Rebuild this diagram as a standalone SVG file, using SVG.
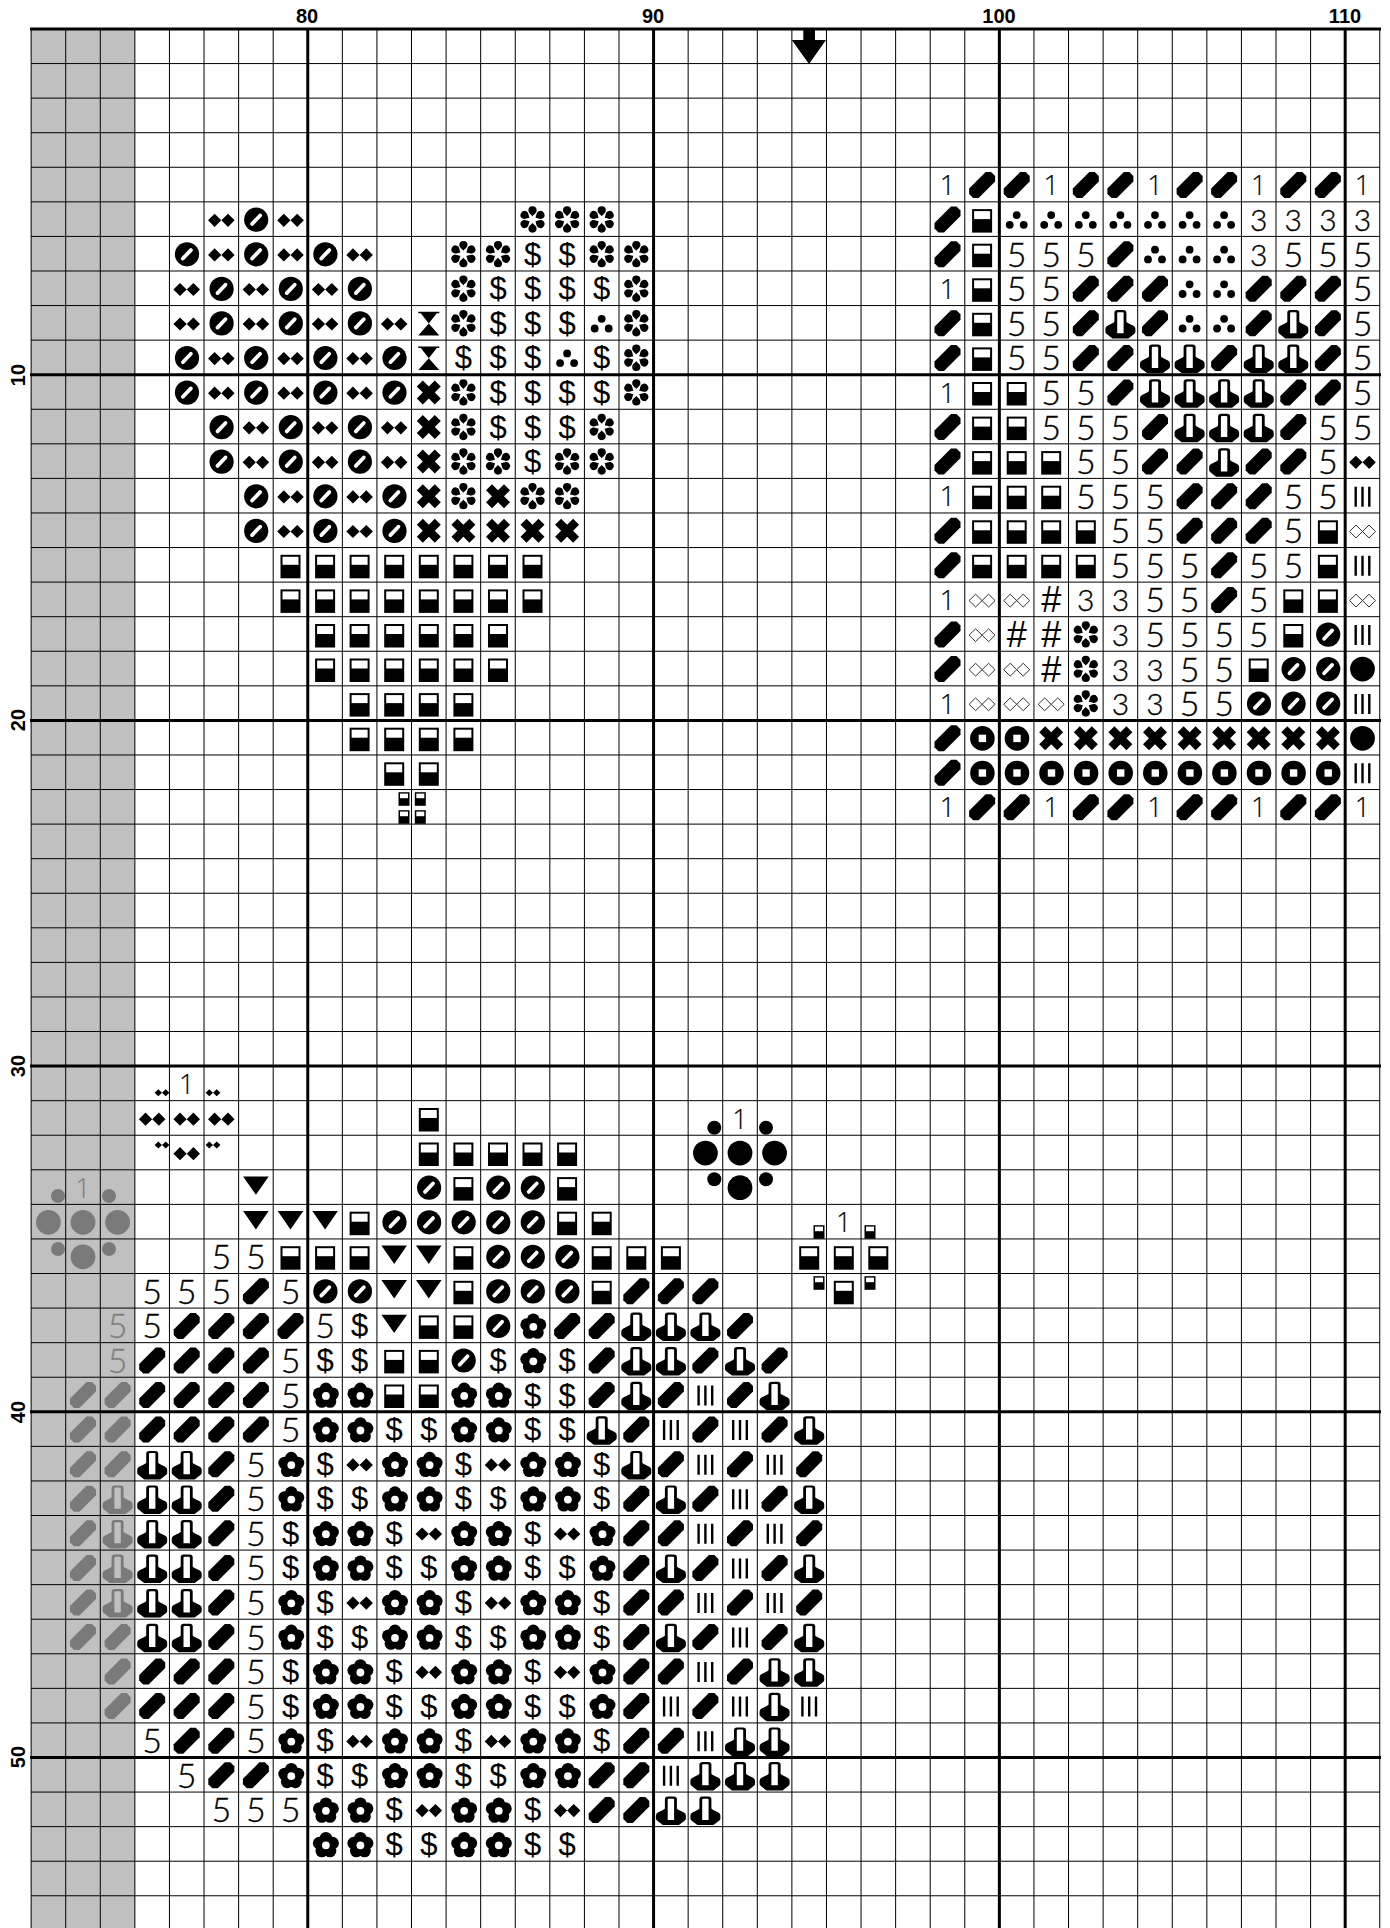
<svg xmlns="http://www.w3.org/2000/svg" width="1390" height="1928" viewBox="0 0 1390 1928">
<style>
.lbl{font:bold 20px "Liberation Sans",Arial,sans-serif;text-anchor:middle;fill:#000}
.f,.t,.o,.d,.h{text-anchor:middle;stroke:#000}
.f,.t{font-family:"Lato","Liberation Sans",sans-serif;font-weight:300;stroke-width:.35}
.f{font-size:34px}.t{font-size:30px}
.o{font-family:"Open Sans","Liberation Sans",sans-serif;font-weight:300;font-size:27px;stroke-width:.15}
.d{font-family:"Liberation Sans",sans-serif;font-size:31px;stroke-width:.05}
.h{font-family:"Liberation Sans",sans-serif;font-size:36px;stroke-width:.05}
.gt{fill:#808080;stroke:#808080}
.grid{fill:none;stroke:#000;stroke-width:1}
.thick{fill:none;stroke:#000;stroke-width:3}
.gr{fill:#7a7a7a}
</style>
<defs>
<path id="S" d="M3.5,-12.5 L9,-12.5 L13,-8.5 L13,-3 L-3.5,13.5 L-9,13.5 L-13,9.5 L-13,4 Z" stroke-linejoin="round"/>
<g id="B"><rect x="-10" y="-10" width="20" height="23.5"/><rect x="-8" y="-8" width="16" height="8" fill="#fff"/></g>
<g id="b"><rect x="-5.5" y="-6.8" width="11" height="13.6"/><rect x="-4" y="-5.4" width="8" height="4.6" fill="#fff"/></g>
<path id="D" d="M-13.3,1.2 L-6.7,-5.4 L0,1.2 L-6.7,7.8 Z M0,1.2 L6.7,-5.4 L13.3,1.2 L6.7,7.8 Z"/>
<path id="d2" d="M-7.4,0 L-3.7,-3.5 L0,0 L-3.7,3.5 Z M0,0 L3.7,-3.5 L7.4,0 L3.7,3.5 Z"/>
<g id="O"><circle cx=".3" cy=".6" r="12.1"/><path d="M-3.8,4.8 L4.2,-3.6" stroke="#fff" stroke-width="3.8" stroke-linecap="round"/></g>
<path id="pt" d="M0,-3.3 C-.9,-5 -4.1,-6.5 -4.1,-9.1 A4.1,4.1 0 0 1 4.1,-9.1 C4.1,-6.5 .9,-5 0,-3.3 Z"/>
<g id="F" transform="translate(0 .4)"><use href="#pt"/><use href="#pt" transform="rotate(60)"/><use href="#pt" transform="rotate(120)"/><use href="#pt" transform="rotate(180)"/><use href="#pt" transform="rotate(240)"/><use href="#pt" transform="rotate(300)"/></g>
<path id="H" d="M-10.5,-11 H10.5 V-9.5 H8 L0,.8 L10.5,12.7 H-10.5 L0,.8 L-8,-9.5 H-10.5 Z"/>
<path id="X" d="M-12,-5.5 L-6,-11.5 L0,-5.5 L6,-11.5 L12,-5.5 L6,.5 L12,6.5 L6,12.5 L0,6.5 L-6,12.5 L-12,6.5 L-6,.5 Z"/>
<g id="R"><circle cx=".3" cy=".7" r="12.3"/><rect x="-3.4" y="-3" width="7.4" height="7.4" fill="#fff"/></g>
<g id="T"><circle cx="0" cy="-4" r="3.9"/><circle cx="-7" cy="5.7" r="3.9"/><circle cx="7" cy="5.7" r="3.9"/></g>
<path id="Ah" d="M-6,-1 L-6,-10 Q-6,-12.8 -3,-12.8 L3,-12.8 Q6,-12.8 6,-10 L6,-1 L7,0 L13,3 Q15,4 15,6 L15,9 Q15,10 14,11 L8,15.7 L-8,15.7 L-14,11 Q-15,10 -15,9 L-15,6 Q-15,4 -13,3 L-7,0 Z"/>
<g id="A"><use href="#Ah"/><path d="M-3.2,10.5 V-9.5 Q-3.2,-10.6 -2,-10.6 L2,-10.6 Q3.2,-10.6 3.2,-9.5 V10.5 Z" fill="#fff"/></g>
<g id="A2"><use href="#Ah"/><path d="M-3.2,10.5 V-9.5 Q-3.2,-10.6 -2,-10.6 L2,-10.6 Q3.2,-10.6 3.2,-9.5 V10.5 Z" fill="#c0c0c0"/></g>
<g id="P" transform="translate(.8 1.4)"><path d="M0,-7 m-6.3,0 a6.3,6.3 0 1 0 12.6,0 a6.3,6.3 0 1 0 -12.6,0 Z"/><circle cx="6.66" cy="-2.16" r="6.3"/><circle cx="4.11" cy="5.66" r="6.3"/><circle cx="-4.11" cy="5.66" r="6.3"/><circle cx="-6.66" cy="-2.16" r="6.3"/><circle r="6"/><circle r="3.9" fill="#fff"/></g>
<path id="I" d="M-8,-9 h2.4 v20 h-2.4 Z M-1.2,-9 h2.4 v20 h-2.4 Z M5.6,-9 h2.4 v20 h-2.4 Z"/>
<path id="E" d="M-13,1.2 L-6.5,-5.2 L0,1.2 L-6.5,7.6 Z M0,1.2 L6.5,-5.2 L13,1.2 L6.5,7.6 Z" fill="#fff" stroke="#333" stroke-width="1"/>
<path id="V" d="M-12.8,-10.7 H12.8 L0,7.7 Z"/>
<circle id="L" r="12.4" cy=".6"/>
<circle id="c" r="7"/>
</defs>

<rect width="1390" height="1928" fill="#fff"/>
<rect x="31" y="29" width="103.9" height="1899" fill="#c0c0c0"/>

<g id="grid">
<path class="grid" d="M31.13 29V1928M65.71 29V1928M100.29 29V1928M134.87 29V1928M169.45 29V1928M204.03 29V1928M238.61 29V1928M273.19 29V1928M342.35 29V1928M376.93 29V1928M411.51 29V1928M446.09 29V1928M480.67 29V1928M515.25 29V1928M549.83 29V1928M584.41 29V1928M618.99 29V1928M688.15 29V1928M722.73 29V1928M757.31 29V1928M791.89 29V1928M826.47 29V1928M861.05 29V1928M895.63 29V1928M930.21 29V1928M964.79 29V1928M1033.95 29V1928M1068.53 29V1928M1103.11 29V1928M1137.69 29V1928M1172.27 29V1928M1206.85 29V1928M1241.43 29V1928M1276.01 29V1928M1310.59 29V1928M1379.75 29V1928"/>
<path class="grid" d="M31 63.57H1380M31 98.14H1380M31 132.71H1380M31 167.28H1380M31 201.85H1380M31 236.42H1380M31 270.99H1380M31 305.56H1380M31 340.13H1380M31 409.27H1380M31 443.84H1380M31 478.41H1380M31 512.98H1380M31 547.55H1380M31 582.12H1380M31 616.69H1380M31 651.26H1380M31 685.83H1380M31 754.97H1380M31 789.54H1380M31 824.11H1380M31 858.68H1380M31 893.25H1380M31 927.82H1380M31 962.39H1380M31 996.96H1380M31 1031.53H1380M31 1100.67H1380M31 1135.24H1380M31 1169.81H1380M31 1204.38H1380M31 1238.95H1380M31 1273.52H1380M31 1308.09H1380M31 1342.66H1380M31 1377.23H1380M31 1446.37H1380M31 1480.94H1380M31 1515.51H1380M31 1550.08H1380M31 1584.65H1380M31 1619.22H1380M31 1653.79H1380M31 1688.36H1380M31 1722.93H1380M31 1792.07H1380M31 1826.64H1380M31 1861.21H1380M31 1895.78H1380"/>
<path class="thick" d="M307.77 28V1928M653.57 28V1928M999.37 28V1928M1345.17 28V1928M30 29H1381M30 374.7H1381M30 720.4H1381M30 1066.1H1381M30 1411.8H1381M30 1757.5H1381"/>
</g>

<g id="labels">
<text class="lbl" x="307" y="23">80</text>
<text class="lbl" x="653" y="23">90</text>
<text class="lbl" x="999" y="23">100</text>
<text class="lbl" x="1345" y="23">110</text>
<text class="lbl" transform="translate(25 375) rotate(-90)">10</text>
<text class="lbl" transform="translate(25 720) rotate(-90)">20</text>
<text class="lbl" transform="translate(25 1066) rotate(-90)">30</text>
<text class="lbl" transform="translate(25 1412) rotate(-90)">40</text>
<text class="lbl" transform="translate(25 1757) rotate(-90)">50</text>
</g>

<path id="center-arrow" d="M803.3 29H815V40H826L809 64L791.8 40H803.3Z"/>

<g id="block-top-right">
<g transform="translate(0 184.6)"><text class="o" x="947.5" y="10.5">1</text><use href="#S" x="982.1"/><use href="#S" x="1016.7"/><text class="o" x="1051.2" y="10.5">1</text><use href="#S" x="1085.8"/><use href="#S" x="1120.4"/><text class="o" x="1155" y="10.5">1</text><use href="#S" x="1189.6"/><use href="#S" x="1224.1"/><text class="o" x="1258.7" y="10.5">1</text><use href="#S" x="1293.3"/><use href="#S" x="1327.9"/><text class="o" x="1362.5" y="10.5">1</text></g>
<g transform="translate(0 219.1)"><use href="#S" x="947.5"/><use href="#B" x="982.1"/><use href="#T" x="1016.7"/><use href="#T" x="1051.2"/><use href="#T" x="1085.8"/><use href="#T" x="1120.4"/><use href="#T" x="1155"/><use href="#T" x="1189.6"/><use href="#T" x="1224.1"/><text class="t" x="1258.7" y="12">3</text><text class="t" x="1293.3" y="12">3</text><text class="t" x="1327.9" y="12">3</text><text class="t" x="1362.5" y="12">3</text></g>
<g transform="translate(0 253.7)"><use href="#S" x="947.5"/><use href="#B" x="982.1"/><text class="f" x="1016.7" y="13">5</text><text class="f" x="1051.2" y="13">5</text><text class="f" x="1085.8" y="13">5</text><use href="#S" x="1120.4"/><use href="#T" x="1155"/><use href="#T" x="1189.6"/><use href="#T" x="1224.1"/><text class="t" x="1258.7" y="12">3</text><text class="f" x="1293.3" y="13">5</text><text class="f" x="1327.9" y="13">5</text><text class="f" x="1362.5" y="13">5</text></g>
<g transform="translate(0 288.3)"><text class="o" x="947.5" y="10.5">1</text><use href="#B" x="982.1"/><text class="f" x="1016.7" y="13">5</text><text class="f" x="1051.2" y="13">5</text><use href="#S" x="1085.8"/><use href="#S" x="1120.4"/><use href="#S" x="1155"/><use href="#T" x="1189.6"/><use href="#T" x="1224.1"/><use href="#S" x="1258.7"/><use href="#S" x="1293.3"/><use href="#S" x="1327.9"/><text class="f" x="1362.5" y="13">5</text></g>
<g transform="translate(0 322.8)"><use href="#S" x="947.5"/><use href="#B" x="982.1"/><text class="f" x="1016.7" y="13">5</text><text class="f" x="1051.2" y="13">5</text><use href="#S" x="1085.8"/><use href="#A" x="1120.4"/><use href="#S" x="1155"/><use href="#T" x="1189.6"/><use href="#T" x="1224.1"/><use href="#S" x="1258.7"/><use href="#A" x="1293.3"/><use href="#S" x="1327.9"/><text class="f" x="1362.5" y="13">5</text></g>
<g transform="translate(0 357.4)"><use href="#S" x="947.5"/><use href="#B" x="982.1"/><text class="f" x="1016.7" y="13">5</text><text class="f" x="1051.2" y="13">5</text><use href="#S" x="1085.8"/><use href="#S" x="1120.4"/><use href="#A" x="1155"/><use href="#A" x="1189.6"/><use href="#S" x="1224.1"/><use href="#A" x="1258.7"/><use href="#A" x="1293.3"/><use href="#S" x="1327.9"/><text class="f" x="1362.5" y="13">5</text></g>
<g transform="translate(0 392)"><text class="o" x="947.5" y="10.5">1</text><use href="#B" x="982.1"/><use href="#B" x="1016.7"/><text class="f" x="1051.2" y="13">5</text><text class="f" x="1085.8" y="13">5</text><use href="#S" x="1120.4"/><use href="#A" x="1155"/><use href="#A" x="1189.6"/><use href="#A" x="1224.1"/><use href="#A" x="1258.7"/><use href="#S" x="1293.3"/><use href="#S" x="1327.9"/><text class="f" x="1362.5" y="13">5</text></g>
<g transform="translate(0 426.6)"><use href="#S" x="947.5"/><use href="#B" x="982.1"/><use href="#B" x="1016.7"/><text class="f" x="1051.2" y="13">5</text><text class="f" x="1085.8" y="13">5</text><text class="f" x="1120.4" y="13">5</text><use href="#S" x="1155"/><use href="#A" x="1189.6"/><use href="#A" x="1224.1"/><use href="#A" x="1258.7"/><use href="#S" x="1293.3"/><text class="f" x="1327.9" y="13">5</text><text class="f" x="1362.5" y="13">5</text></g>
<g transform="translate(0 461.1)"><use href="#S" x="947.5"/><use href="#B" x="982.1"/><use href="#B" x="1016.7"/><use href="#B" x="1051.2"/><text class="f" x="1085.8" y="13">5</text><text class="f" x="1120.4" y="13">5</text><use href="#S" x="1155"/><use href="#S" x="1189.6"/><use href="#A" x="1224.1"/><use href="#S" x="1258.7"/><use href="#S" x="1293.3"/><text class="f" x="1327.9" y="13">5</text><use href="#D" x="1362.5"/></g>
<g transform="translate(0 495.7)"><text class="o" x="947.5" y="10.5">1</text><use href="#B" x="982.1"/><use href="#B" x="1016.7"/><use href="#B" x="1051.2"/><text class="f" x="1085.8" y="13">5</text><text class="f" x="1120.4" y="13">5</text><text class="f" x="1155" y="13">5</text><use href="#S" x="1189.6"/><use href="#S" x="1224.1"/><use href="#S" x="1258.7"/><text class="f" x="1293.3" y="13">5</text><text class="f" x="1327.9" y="13">5</text><use href="#I" x="1362.5"/></g>
<g transform="translate(0 530.3)"><use href="#S" x="947.5"/><use href="#B" x="982.1"/><use href="#B" x="1016.7"/><use href="#B" x="1051.2"/><use href="#B" x="1085.8"/><text class="f" x="1120.4" y="13">5</text><text class="f" x="1155" y="13">5</text><use href="#S" x="1189.6"/><use href="#S" x="1224.1"/><use href="#S" x="1258.7"/><text class="f" x="1293.3" y="13">5</text><use href="#B" x="1327.9"/><use href="#E" x="1362.5"/></g>
<g transform="translate(0 564.8)"><use href="#S" x="947.5"/><use href="#B" x="982.1"/><use href="#B" x="1016.7"/><use href="#B" x="1051.2"/><use href="#B" x="1085.8"/><text class="f" x="1120.4" y="13">5</text><text class="f" x="1155" y="13">5</text><text class="f" x="1189.6" y="13">5</text><use href="#S" x="1224.1"/><text class="f" x="1258.7" y="13">5</text><text class="f" x="1293.3" y="13">5</text><use href="#B" x="1327.9"/><use href="#I" x="1362.5"/></g>
<g transform="translate(0 599.4)"><text class="o" x="947.5" y="10.5">1</text><use href="#E" x="982.1"/><use href="#E" x="1016.7"/><text class="h" x="1051.2" y="13">#</text><text class="t" x="1085.8" y="12">3</text><text class="t" x="1120.4" y="12">3</text><text class="f" x="1155" y="13">5</text><text class="f" x="1189.6" y="13">5</text><use href="#S" x="1224.1"/><text class="f" x="1258.7" y="13">5</text><use href="#B" x="1293.3"/><use href="#B" x="1327.9"/><use href="#E" x="1362.5"/></g>
<g transform="translate(0 634)"><use href="#S" x="947.5"/><use href="#E" x="982.1"/><text class="h" x="1016.7" y="13">#</text><text class="h" x="1051.2" y="13">#</text><use href="#F" x="1085.8"/><text class="t" x="1120.4" y="12">3</text><text class="f" x="1155" y="13">5</text><text class="f" x="1189.6" y="13">5</text><text class="f" x="1224.1" y="13">5</text><text class="f" x="1258.7" y="13">5</text><use href="#B" x="1293.3"/><use href="#O" x="1327.9"/><use href="#I" x="1362.5"/></g>
<g transform="translate(0 668.5)"><use href="#S" x="947.5"/><use href="#E" x="982.1"/><use href="#E" x="1016.7"/><text class="h" x="1051.2" y="13">#</text><use href="#F" x="1085.8"/><text class="t" x="1120.4" y="12">3</text><text class="t" x="1155" y="12">3</text><text class="f" x="1189.6" y="13">5</text><text class="f" x="1224.1" y="13">5</text><use href="#B" x="1258.7"/><use href="#O" x="1293.3"/><use href="#O" x="1327.9"/><use href="#L" x="1362.5"/></g>
<g transform="translate(0 703.1)"><text class="o" x="947.5" y="10.5">1</text><use href="#E" x="982.1"/><use href="#E" x="1016.7"/><use href="#E" x="1051.2"/><use href="#F" x="1085.8"/><text class="t" x="1120.4" y="12">3</text><text class="t" x="1155" y="12">3</text><text class="f" x="1189.6" y="13">5</text><text class="f" x="1224.1" y="13">5</text><use href="#O" x="1258.7"/><use href="#O" x="1293.3"/><use href="#O" x="1327.9"/><use href="#I" x="1362.5"/></g>
<g transform="translate(0 737.7)"><use href="#S" x="947.5"/><use href="#R" x="982.1"/><use href="#R" x="1016.7"/><use href="#X" x="1051.2"/><use href="#X" x="1085.8"/><use href="#X" x="1120.4"/><use href="#X" x="1155"/><use href="#X" x="1189.6"/><use href="#X" x="1224.1"/><use href="#X" x="1258.7"/><use href="#X" x="1293.3"/><use href="#X" x="1327.9"/><use href="#L" x="1362.5"/></g>
<g transform="translate(0 772.3)"><use href="#S" x="947.5"/><use href="#R" x="982.1"/><use href="#R" x="1016.7"/><use href="#R" x="1051.2"/><use href="#R" x="1085.8"/><use href="#R" x="1120.4"/><use href="#R" x="1155"/><use href="#R" x="1189.6"/><use href="#R" x="1224.1"/><use href="#R" x="1258.7"/><use href="#R" x="1293.3"/><use href="#R" x="1327.9"/><use href="#I" x="1362.5"/></g>
<g transform="translate(0 806.8)"><text class="o" x="947.5" y="10.5">1</text><use href="#S" x="982.1"/><use href="#S" x="1016.7"/><text class="o" x="1051.2" y="10.5">1</text><use href="#S" x="1085.8"/><use href="#S" x="1120.4"/><text class="o" x="1155" y="10.5">1</text><use href="#S" x="1189.6"/><use href="#S" x="1224.1"/><text class="o" x="1258.7" y="10.5">1</text><use href="#S" x="1293.3"/><use href="#S" x="1327.9"/><text class="o" x="1362.5" y="10.5">1</text></g>
</g>

<g id="block-heart">
<g transform="translate(0 219.1)"><use href="#D" x="221.3"/><use href="#O" x="255.9"/><use href="#D" x="290.5"/><use href="#F" x="532.5"/><use href="#F" x="567.1"/><use href="#F" x="601.7"/></g>
<g transform="translate(0 253.7)"><use href="#O" x="186.7"/><use href="#D" x="221.3"/><use href="#O" x="255.9"/><use href="#D" x="290.5"/><use href="#O" x="325.1"/><use href="#D" x="359.6"/><use href="#F" x="463.4"/><use href="#F" x="498"/><text class="d" x="532.5" y="11">$</text><text class="d" x="567.1" y="11">$</text><use href="#F" x="601.7"/><use href="#F" x="636.3"/></g>
<g transform="translate(0 288.3)"><use href="#D" x="186.7"/><use href="#O" x="221.3"/><use href="#D" x="255.9"/><use href="#O" x="290.5"/><use href="#D" x="325.1"/><use href="#O" x="359.6"/><use href="#F" x="463.4"/><text class="d" x="498" y="11">$</text><text class="d" x="532.5" y="11">$</text><text class="d" x="567.1" y="11">$</text><text class="d" x="601.7" y="11">$</text><use href="#F" x="636.3"/></g>
<g transform="translate(0 322.8)"><use href="#D" x="186.7"/><use href="#O" x="221.3"/><use href="#D" x="255.9"/><use href="#O" x="290.5"/><use href="#D" x="325.1"/><use href="#O" x="359.6"/><use href="#D" x="394.2"/><use href="#H" x="428.8"/><use href="#F" x="463.4"/><text class="d" x="498" y="11">$</text><text class="d" x="532.5" y="11">$</text><text class="d" x="567.1" y="11">$</text><use href="#T" x="601.7"/><use href="#F" x="636.3"/></g>
<g transform="translate(0 357.4)"><use href="#O" x="186.7"/><use href="#D" x="221.3"/><use href="#O" x="255.9"/><use href="#D" x="290.5"/><use href="#O" x="325.1"/><use href="#D" x="359.6"/><use href="#O" x="394.2"/><use href="#H" x="428.8"/><text class="d" x="463.4" y="11">$</text><text class="d" x="498" y="11">$</text><text class="d" x="532.5" y="11">$</text><use href="#T" x="567.1"/><text class="d" x="601.7" y="11">$</text><use href="#F" x="636.3"/></g>
<g transform="translate(0 392)"><use href="#O" x="186.7"/><use href="#D" x="221.3"/><use href="#O" x="255.9"/><use href="#D" x="290.5"/><use href="#O" x="325.1"/><use href="#D" x="359.6"/><use href="#O" x="394.2"/><use href="#X" x="428.8"/><use href="#F" x="463.4"/><text class="d" x="498" y="11">$</text><text class="d" x="532.5" y="11">$</text><text class="d" x="567.1" y="11">$</text><text class="d" x="601.7" y="11">$</text><use href="#F" x="636.3"/></g>
<g transform="translate(0 426.6)"><use href="#O" x="221.3"/><use href="#D" x="255.9"/><use href="#O" x="290.5"/><use href="#D" x="325.1"/><use href="#O" x="359.6"/><use href="#D" x="394.2"/><use href="#X" x="428.8"/><use href="#F" x="463.4"/><text class="d" x="498" y="11">$</text><text class="d" x="532.5" y="11">$</text><text class="d" x="567.1" y="11">$</text><use href="#F" x="601.7"/></g>
<g transform="translate(0 461.1)"><use href="#O" x="221.3"/><use href="#D" x="255.9"/><use href="#O" x="290.5"/><use href="#D" x="325.1"/><use href="#O" x="359.6"/><use href="#D" x="394.2"/><use href="#X" x="428.8"/><use href="#F" x="463.4"/><use href="#F" x="498"/><text class="d" x="532.5" y="11">$</text><use href="#F" x="567.1"/><use href="#F" x="601.7"/></g>
<g transform="translate(0 495.7)"><use href="#O" x="255.9"/><use href="#D" x="290.5"/><use href="#O" x="325.1"/><use href="#D" x="359.6"/><use href="#O" x="394.2"/><use href="#X" x="428.8"/><use href="#F" x="463.4"/><use href="#X" x="498"/><use href="#F" x="532.5"/><use href="#F" x="567.1"/></g>
<g transform="translate(0 530.3)"><use href="#O" x="255.9"/><use href="#D" x="290.5"/><use href="#O" x="325.1"/><use href="#D" x="359.6"/><use href="#O" x="394.2"/><use href="#X" x="428.8"/><use href="#X" x="463.4"/><use href="#X" x="498"/><use href="#X" x="532.5"/><use href="#X" x="567.1"/></g>
<g transform="translate(0 564.8)"><use href="#B" x="290.5"/><use href="#B" x="325.1"/><use href="#B" x="359.6"/><use href="#B" x="394.2"/><use href="#B" x="428.8"/><use href="#B" x="463.4"/><use href="#B" x="498"/><use href="#B" x="532.5"/></g>
<g transform="translate(0 599.4)"><use href="#B" x="290.5"/><use href="#B" x="325.1"/><use href="#B" x="359.6"/><use href="#B" x="394.2"/><use href="#B" x="428.8"/><use href="#B" x="463.4"/><use href="#B" x="498"/><use href="#B" x="532.5"/></g>
<g transform="translate(0 634)"><use href="#B" x="325.1"/><use href="#B" x="359.6"/><use href="#B" x="394.2"/><use href="#B" x="428.8"/><use href="#B" x="463.4"/><use href="#B" x="498"/></g>
<g transform="translate(0 668.5)"><use href="#B" x="325.1"/><use href="#B" x="359.6"/><use href="#B" x="394.2"/><use href="#B" x="428.8"/><use href="#B" x="463.4"/><use href="#B" x="498"/></g>
<g transform="translate(0 703.1)"><use href="#B" x="359.6"/><use href="#B" x="394.2"/><use href="#B" x="428.8"/><use href="#B" x="463.4"/></g>
<g transform="translate(0 737.7)"><use href="#B" x="359.6"/><use href="#B" x="394.2"/><use href="#B" x="428.8"/><use href="#B" x="463.4"/></g>
<g transform="translate(0 772.3)"><use href="#B" x="394.2"/><use href="#B" x="428.8"/></g>
<use href="#b" x="404" y="799"/><use href="#b" x="420.3" y="799"/><use href="#b" x="404" y="817"/><use href="#b" x="420.3" y="817"/>
</g>

<g id="cluster-diamonds">
<text class="o" x="186.7" y="1093.9">1</text>
<use href="#d2" x="162" y="1092.7"/><use href="#d2" x="213" y="1092.7"/>
<use href="#D" x="152.2" y="1118"/><use href="#D" x="186.7" y="1118"/><use href="#D" x="221.3" y="1118"/>
<use href="#d2" x="162" y="1145"/><use href="#D" x="186.7" y="1152.5"/><use href="#d2" x="213" y="1145"/>
</g>
<g id="cluster-gray" class="gr">
<text class="o gt" x="83" y="1197.6">1</text>
<use href="#c" x="58" y="1196"/><use href="#c" x="109" y="1196"/>
<use href="#L" x="48.4" y="1221.7"/><use href="#L" x="83" y="1221.7"/><use href="#L" x="117.6" y="1221.7"/>
<use href="#c" x="58" y="1249"/><use href="#L" x="83" y="1256.2"/><use href="#c" x="109" y="1249"/>
</g>
<g id="cluster-discs">
<text class="o" x="740" y="1128.5">1</text>
<use href="#c" x="714.3" y="1127.7"/><use href="#c" x="766" y="1127.7"/>
<use href="#L" x="705.4" y="1152.5"/><use href="#L" x="740" y="1152.5"/><use href="#L" x="774.6" y="1152.5"/>
<use href="#c" x="714.3" y="1179.3"/><use href="#L" x="740" y="1187.1"/><use href="#c" x="766" y="1179.3"/>
</g>
<g id="cluster-boxes">
<text class="o" x="843.8" y="1232.2">1</text>
<use href="#b" x="819" y="1232"/><use href="#b" x="870" y="1232"/>
<use href="#B" x="809.2" y="1256.2"/><use href="#B" x="843.8" y="1256.2"/><use href="#B" x="878.3" y="1256.2"/>
<use href="#b" x="819" y="1283"/><use href="#B" x="843.8" y="1290.8"/><use href="#b" x="870" y="1283"/>
</g>

<g id="block-lower">
<use href="#B" x="428.8" y="1118"/>
<g transform="translate(0 1152.5)"><use href="#B" x="428.8"/><use href="#B" x="463.4"/><use href="#B" x="498"/><use href="#B" x="532.5"/><use href="#B" x="567.1"/></g>
<g transform="translate(0 1187.1)"><use href="#V" x="255.9"/><use href="#O" x="428.8"/><use href="#B" x="463.4"/><use href="#O" x="498"/><use href="#O" x="532.5"/><use href="#B" x="567.1"/></g>
<g transform="translate(0 1221.7)"><use href="#V" x="255.9"/><use href="#V" x="290.5"/><use href="#V" x="325.1"/><use href="#B" x="359.6"/><use href="#O" x="394.2"/><use href="#O" x="428.8"/><use href="#O" x="463.4"/><use href="#O" x="498"/><use href="#O" x="532.5"/><use href="#B" x="567.1"/><use href="#B" x="601.7"/></g>
<g transform="translate(0 1256.2)"><text class="f" x="221.3" y="13">5</text><text class="f" x="255.9" y="13">5</text><use href="#B" x="290.5"/><use href="#B" x="325.1"/><use href="#B" x="359.6"/><use href="#V" x="394.2"/><use href="#V" x="428.8"/><use href="#B" x="463.4"/><use href="#O" x="498"/><use href="#O" x="532.5"/><use href="#O" x="567.1"/><use href="#B" x="601.7"/><use href="#B" x="636.3"/><use href="#B" x="670.9"/></g>
<g transform="translate(0 1290.8)"><text class="f" x="152.2" y="13">5</text><text class="f" x="186.7" y="13">5</text><text class="f" x="221.3" y="13">5</text><use href="#S" x="255.9"/><text class="f" x="290.5" y="13">5</text><use href="#O" x="325.1"/><use href="#O" x="359.6"/><use href="#V" x="394.2"/><use href="#V" x="428.8"/><use href="#B" x="463.4"/><use href="#O" x="498"/><use href="#O" x="532.5"/><use href="#O" x="567.1"/><use href="#B" x="601.7"/><use href="#S" x="636.3"/><use href="#S" x="670.9"/><use href="#S" x="705.4"/></g>
<g transform="translate(0 1325.4)"><text class="f gt" x="117.6" y="13">5</text><text class="f" x="152.2" y="13">5</text><use href="#S" x="186.7"/><use href="#S" x="221.3"/><use href="#S" x="255.9"/><use href="#S" x="290.5"/><text class="f" x="325.1" y="13">5</text><text class="d" x="359.6" y="11">$</text><use href="#V" x="394.2"/><use href="#B" x="428.8"/><use href="#B" x="463.4"/><use href="#O" x="498"/><use href="#P" x="532.5"/><use href="#S" x="567.1"/><use href="#S" x="601.7"/><use href="#A" x="636.3"/><use href="#A" x="670.9"/><use href="#A" x="705.4"/><use href="#S" x="740"/></g>
<g transform="translate(0 1359.9)"><text class="f gt" x="117.6" y="13">5</text><use href="#S" x="152.2"/><use href="#S" x="186.7"/><use href="#S" x="221.3"/><use href="#S" x="255.9"/><text class="f" x="290.5" y="13">5</text><text class="d" x="325.1" y="11">$</text><text class="d" x="359.6" y="11">$</text><use href="#B" x="394.2"/><use href="#B" x="428.8"/><use href="#O" x="463.4"/><text class="d" x="498" y="11">$</text><use href="#P" x="532.5"/><text class="d" x="567.1" y="11">$</text><use href="#S" x="601.7"/><use href="#A" x="636.3"/><use href="#A" x="670.9"/><use href="#S" x="705.4"/><use href="#A" x="740"/><use href="#S" x="774.6"/></g>
<g transform="translate(0 1394.5)"><use class="gr" href="#S" x="83"/><use class="gr" href="#S" x="117.6"/><use href="#S" x="152.2"/><use href="#S" x="186.7"/><use href="#S" x="221.3"/><use href="#S" x="255.9"/><text class="f" x="290.5" y="13">5</text><use href="#P" x="325.1"/><use href="#P" x="359.6"/><use href="#B" x="394.2"/><use href="#B" x="428.8"/><use href="#P" x="463.4"/><use href="#P" x="498"/><text class="d" x="532.5" y="11">$</text><text class="d" x="567.1" y="11">$</text><use href="#S" x="601.7"/><use href="#A" x="636.3"/><use href="#S" x="670.9"/><use href="#I" x="705.4"/><use href="#S" x="740"/><use href="#A" x="774.6"/></g>
<g transform="translate(0 1429.1)"><use class="gr" href="#S" x="83"/><use class="gr" href="#S" x="117.6"/><use href="#S" x="152.2"/><use href="#S" x="186.7"/><use href="#S" x="221.3"/><use href="#S" x="255.9"/><text class="f" x="290.5" y="13">5</text><use href="#P" x="325.1"/><use href="#P" x="359.6"/><text class="d" x="394.2" y="11">$</text><text class="d" x="428.8" y="11">$</text><use href="#P" x="463.4"/><use href="#P" x="498"/><text class="d" x="532.5" y="11">$</text><text class="d" x="567.1" y="11">$</text><use href="#A" x="601.7"/><use href="#S" x="636.3"/><use href="#I" x="670.9"/><use href="#S" x="705.4"/><use href="#I" x="740"/><use href="#S" x="774.6"/><use href="#A" x="809.2"/></g>
<g transform="translate(0 1463.7)"><use class="gr" href="#S" x="83"/><use class="gr" href="#S" x="117.6"/><use href="#A" x="152.2"/><use href="#A" x="186.7"/><use href="#S" x="221.3"/><text class="f" x="255.9" y="13">5</text><use href="#P" x="290.5"/><text class="d" x="325.1" y="11">$</text><use href="#D" x="359.6"/><use href="#P" x="394.2"/><use href="#P" x="428.8"/><text class="d" x="463.4" y="11">$</text><use href="#D" x="498"/><use href="#P" x="532.5"/><use href="#P" x="567.1"/><text class="d" x="601.7" y="11">$</text><use href="#A" x="636.3"/><use href="#S" x="670.9"/><use href="#I" x="705.4"/><use href="#S" x="740"/><use href="#I" x="774.6"/><use href="#S" x="809.2"/></g>
<g transform="translate(0 1498.2)"><use class="gr" href="#S" x="83"/><use class="gr" href="#A2" x="117.6"/><use href="#A" x="152.2"/><use href="#A" x="186.7"/><use href="#S" x="221.3"/><text class="f" x="255.9" y="13">5</text><use href="#P" x="290.5"/><text class="d" x="325.1" y="11">$</text><text class="d" x="359.6" y="11">$</text><use href="#P" x="394.2"/><use href="#P" x="428.8"/><text class="d" x="463.4" y="11">$</text><text class="d" x="498" y="11">$</text><use href="#P" x="532.5"/><use href="#P" x="567.1"/><text class="d" x="601.7" y="11">$</text><use href="#S" x="636.3"/><use href="#A" x="670.9"/><use href="#S" x="705.4"/><use href="#I" x="740"/><use href="#S" x="774.6"/><use href="#A" x="809.2"/></g>
<g transform="translate(0 1532.8)"><use class="gr" href="#S" x="83"/><use class="gr" href="#A2" x="117.6"/><use href="#A" x="152.2"/><use href="#A" x="186.7"/><use href="#S" x="221.3"/><text class="f" x="255.9" y="13">5</text><text class="d" x="290.5" y="11">$</text><use href="#P" x="325.1"/><use href="#P" x="359.6"/><text class="d" x="394.2" y="11">$</text><use href="#D" x="428.8"/><use href="#P" x="463.4"/><use href="#P" x="498"/><text class="d" x="532.5" y="11">$</text><use href="#D" x="567.1"/><use href="#P" x="601.7"/><use href="#S" x="636.3"/><use href="#S" x="670.9"/><use href="#I" x="705.4"/><use href="#S" x="740"/><use href="#I" x="774.6"/><use href="#S" x="809.2"/></g>
<g transform="translate(0 1567.4)"><use class="gr" href="#S" x="83"/><use class="gr" href="#A2" x="117.6"/><use href="#A" x="152.2"/><use href="#A" x="186.7"/><use href="#S" x="221.3"/><text class="f" x="255.9" y="13">5</text><text class="d" x="290.5" y="11">$</text><use href="#P" x="325.1"/><use href="#P" x="359.6"/><text class="d" x="394.2" y="11">$</text><text class="d" x="428.8" y="11">$</text><use href="#P" x="463.4"/><use href="#P" x="498"/><text class="d" x="532.5" y="11">$</text><text class="d" x="567.1" y="11">$</text><use href="#P" x="601.7"/><use href="#S" x="636.3"/><use href="#A" x="670.9"/><use href="#S" x="705.4"/><use href="#I" x="740"/><use href="#S" x="774.6"/><use href="#A" x="809.2"/></g>
<g transform="translate(0 1601.9)"><use class="gr" href="#S" x="83"/><use class="gr" href="#A2" x="117.6"/><use href="#A" x="152.2"/><use href="#A" x="186.7"/><use href="#S" x="221.3"/><text class="f" x="255.9" y="13">5</text><use href="#P" x="290.5"/><text class="d" x="325.1" y="11">$</text><use href="#D" x="359.6"/><use href="#P" x="394.2"/><use href="#P" x="428.8"/><text class="d" x="463.4" y="11">$</text><use href="#D" x="498"/><use href="#P" x="532.5"/><use href="#P" x="567.1"/><text class="d" x="601.7" y="11">$</text><use href="#S" x="636.3"/><use href="#S" x="670.9"/><use href="#I" x="705.4"/><use href="#S" x="740"/><use href="#I" x="774.6"/><use href="#S" x="809.2"/></g>
<g transform="translate(0 1636.5)"><use class="gr" href="#S" x="83"/><use class="gr" href="#S" x="117.6"/><use href="#A" x="152.2"/><use href="#A" x="186.7"/><use href="#S" x="221.3"/><text class="f" x="255.9" y="13">5</text><use href="#P" x="290.5"/><text class="d" x="325.1" y="11">$</text><text class="d" x="359.6" y="11">$</text><use href="#P" x="394.2"/><use href="#P" x="428.8"/><text class="d" x="463.4" y="11">$</text><text class="d" x="498" y="11">$</text><use href="#P" x="532.5"/><use href="#P" x="567.1"/><text class="d" x="601.7" y="11">$</text><use href="#S" x="636.3"/><use href="#A" x="670.9"/><use href="#S" x="705.4"/><use href="#I" x="740"/><use href="#S" x="774.6"/><use href="#A" x="809.2"/></g>
<g transform="translate(0 1671.1)"><use class="gr" href="#S" x="117.6"/><use href="#S" x="152.2"/><use href="#S" x="186.7"/><use href="#S" x="221.3"/><text class="f" x="255.9" y="13">5</text><text class="d" x="290.5" y="11">$</text><use href="#P" x="325.1"/><use href="#P" x="359.6"/><text class="d" x="394.2" y="11">$</text><use href="#D" x="428.8"/><use href="#P" x="463.4"/><use href="#P" x="498"/><text class="d" x="532.5" y="11">$</text><use href="#D" x="567.1"/><use href="#P" x="601.7"/><use href="#S" x="636.3"/><use href="#S" x="670.9"/><use href="#I" x="705.4"/><use href="#S" x="740"/><use href="#A" x="774.6"/><use href="#A" x="809.2"/></g>
<g transform="translate(0 1705.6)"><use class="gr" href="#S" x="117.6"/><use href="#S" x="152.2"/><use href="#S" x="186.7"/><use href="#S" x="221.3"/><text class="f" x="255.9" y="13">5</text><text class="d" x="290.5" y="11">$</text><use href="#P" x="325.1"/><use href="#P" x="359.6"/><text class="d" x="394.2" y="11">$</text><text class="d" x="428.8" y="11">$</text><use href="#P" x="463.4"/><use href="#P" x="498"/><text class="d" x="532.5" y="11">$</text><text class="d" x="567.1" y="11">$</text><use href="#P" x="601.7"/><use href="#S" x="636.3"/><use href="#I" x="670.9"/><use href="#S" x="705.4"/><use href="#I" x="740"/><use href="#A" x="774.6"/><use href="#I" x="809.2"/></g>
<g transform="translate(0 1740.2)"><text class="f" x="152.2" y="13">5</text><use href="#S" x="186.7"/><use href="#S" x="221.3"/><text class="f" x="255.9" y="13">5</text><use href="#P" x="290.5"/><text class="d" x="325.1" y="11">$</text><use href="#D" x="359.6"/><use href="#P" x="394.2"/><use href="#P" x="428.8"/><text class="d" x="463.4" y="11">$</text><use href="#D" x="498"/><use href="#P" x="532.5"/><use href="#P" x="567.1"/><text class="d" x="601.7" y="11">$</text><use href="#S" x="636.3"/><use href="#S" x="670.9"/><use href="#I" x="705.4"/><use href="#A" x="740"/><use href="#A" x="774.6"/></g>
<g transform="translate(0 1774.8)"><text class="f" x="186.7" y="13">5</text><use href="#S" x="221.3"/><use href="#S" x="255.9"/><use href="#P" x="290.5"/><text class="d" x="325.1" y="11">$</text><text class="d" x="359.6" y="11">$</text><use href="#P" x="394.2"/><use href="#P" x="428.8"/><text class="d" x="463.4" y="11">$</text><text class="d" x="498" y="11">$</text><use href="#P" x="532.5"/><use href="#P" x="567.1"/><use href="#S" x="601.7"/><use href="#S" x="636.3"/><use href="#I" x="670.9"/><use href="#A" x="705.4"/><use href="#A" x="740"/><use href="#A" x="774.6"/></g>
<g transform="translate(0 1809.4)"><text class="f" x="221.3" y="13">5</text><text class="f" x="255.9" y="13">5</text><text class="f" x="290.5" y="13">5</text><use href="#P" x="325.1"/><use href="#P" x="359.6"/><text class="d" x="394.2" y="11">$</text><use href="#D" x="428.8"/><use href="#P" x="463.4"/><use href="#P" x="498"/><text class="d" x="532.5" y="11">$</text><use href="#D" x="567.1"/><use href="#S" x="601.7"/><use href="#S" x="636.3"/><use href="#A" x="670.9"/><use href="#A" x="705.4"/></g>
<g transform="translate(0 1843.9)"><use href="#P" x="325.1"/><use href="#P" x="359.6"/><text class="d" x="394.2" y="11">$</text><text class="d" x="428.8" y="11">$</text><use href="#P" x="463.4"/><use href="#P" x="498"/><text class="d" x="532.5" y="11">$</text><text class="d" x="567.1" y="11">$</text></g>
</g>
</svg>
